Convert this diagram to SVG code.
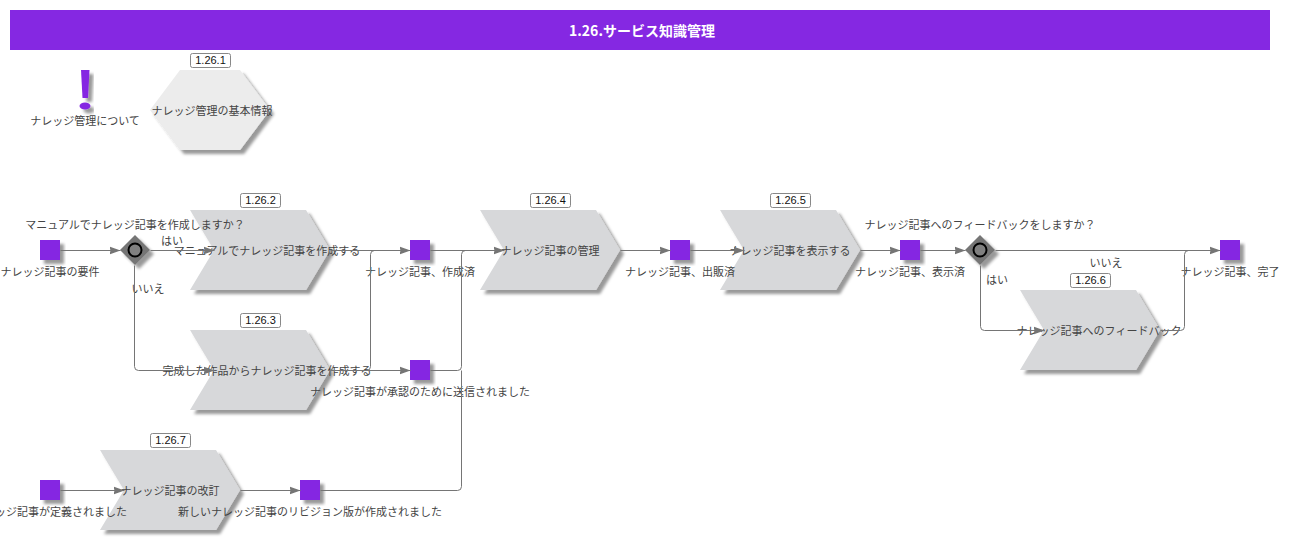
<svg xmlns="http://www.w3.org/2000/svg" width="1291" height="540" viewBox="0 0 1291 540">
<style>
text{font-family:"Noto Sans CJK JP","Liberation Sans",sans-serif;font-size:11px;fill:#444;text-anchor:middle}
.ev{fill:#8528e2;filter:url(#sh)}
.fn{fill:#d7d8da;filter:url(#sh)}
.gw{fill:#757575;filter:url(#sh)}
.ring{fill:#808080;stroke:#000;stroke-width:2}
.tag{fill:#fff;stroke:#888;stroke-width:1}
.tagt{font-family:"Liberation Sans",sans-serif;fill:#111}
.c{fill:none;stroke:#757575;stroke-width:1}
.a{marker-end:url(#arr)}
</style>
<defs>
<filter id="sh" x="-20%" y="-20%" width="150%" height="150%"><feDropShadow dx="4" dy="4" stdDeviation="1.500" flood-color="#000" flood-opacity="0.4"/></filter>
<marker id="arr" markerUnits="userSpaceOnUse" markerWidth="12" markerHeight="10" refX="11" refY="5" orient="auto"><path d="M0 1 L11 5 L0 9 L1 5 Z" fill="#757575"/></marker>
<polygon id="chev" points="0,0 116,0 140,40 116,80 0,80 24,40"/>
</defs>
<rect id="header" x="10" y="10" width="1260" height="40" fill="#8528e2"/>
<g id="about"><g style="filter:url(#sh)"><polygon points="81,70 89.500,70 88,98 82.500,98" fill="#8528e2"/><ellipse cx="85" cy="106" rx="5.500" ry="3.500" fill="#8528e2"/></g><text x="85" y="125">ナレッジ管理について</text></g>
<g id="n1261"><polygon points="150,110 180,70 240,70 270,110 240,150 180,150" fill="#ececec" filter="url(#sh)"/><text x="212" y="115">ナレッジ管理の基本情報</text><rect class="tag" x="190.500" y="53.500" width="40" height="14" rx="2"/><text class="tagt" x="210.500" y="64">1.26.1</text></g>
<g id="n1262"><use href="#chev" x="190" y="210" class="fn"/></g>
<g id="n1263"><use href="#chev" x="190" y="330" class="fn"/></g>
<g id="n1264"><use href="#chev" x="480" y="210" class="fn"/></g>
<g id="n1265"><use href="#chev" x="720" y="210" class="fn"/></g>
<g id="n1266"><use href="#chev" x="1020" y="290" class="fn"/></g>
<g id="n1267"><use href="#chev" x="100" y="450" class="fn"/></g>
<g id="e1"><rect class="ev" x="40" y="240" width="20" height="20"/><text x="50" y="276">ナレッジ記事の要件</text></g>
<g id="g1"><polygon class="gw" points="135,235 150,250 135,265 120,250"/><circle class="ring" cx="135" cy="250" r="6.500"/><text x="135" y="229">マニュアルでナレッジ記事を作成しますか？</text><text x="172" y="245">はい</text><text x="148" y="293">いいえ</text></g>
<g id="t1262"><text x="267" y="255">マニュアルでナレッジ記事を作成する</text><rect class="tag" x="240.500" y="193.500" width="40" height="14" rx="2"/><text class="tagt" x="260.500" y="204">1.26.2</text></g>
<g id="t1263"><text x="267" y="375">完成した作品からナレッジ記事を作成する</text><rect class="tag" x="240.500" y="313.500" width="40" height="14" rx="2"/><text class="tagt" x="260.500" y="324">1.26.3</text></g>
<g id="e2"><rect class="ev" x="410" y="240" width="20" height="20"/><text x="420" y="276">ナレッジ記事、作成済</text></g>
<g id="e3"><rect class="ev" x="410" y="360" width="20" height="20"/><text x="420" y="396">ナレッジ記事が承認のために送信されました</text></g>
<g id="t1264"><text x="550" y="255">ナレッジ記事の管理</text><rect class="tag" x="530.500" y="193.500" width="40" height="14" rx="2"/><text class="tagt" x="550.500" y="204">1.26.4</text></g>
<g id="e4"><rect class="ev" x="670" y="240" width="20" height="20"/><text x="680" y="276">ナレッジ記事、出販済</text></g>
<g id="t1265"><text x="790" y="255">ナレッジ記事を表示する</text><rect class="tag" x="770.500" y="193.500" width="40" height="14" rx="2"/><text class="tagt" x="790.500" y="204">1.26.5</text></g>
<g id="e5"><rect class="ev" x="900" y="240" width="20" height="20"/><text x="910" y="276">ナレッジ記事、表示済</text></g>
<g id="g2"><polygon class="gw" points="980,235 995,250 980,265 965,250"/><circle class="ring" cx="980" cy="250" r="6.500"/><text x="980" y="229">ナレッジ記事へのフィードバックをしますか？</text><text x="997" y="284">はい</text><text x="1106" y="267">いいえ</text></g>
<g id="t1266"><text x="1099" y="335">ナレッジ記事へのフィードバック</text><rect class="tag" x="1070.500" y="273.500" width="40" height="14" rx="2"/><text class="tagt" x="1090.500" y="284">1.26.6</text></g>
<g id="e6"><rect class="ev" x="1220" y="240" width="20" height="20"/><text x="1230" y="276">ナレッジ記事、完了</text></g>
<g id="t1267"><text x="170" y="495">ナレッジ記事の改訂</text><rect class="tag" x="150.500" y="433.500" width="40" height="14" rx="2"/><text class="tagt" x="170.500" y="444">1.26.7</text></g>
<g id="e7"><rect class="ev" x="40" y="480" width="20" height="20"/><text x="50" y="516">ナレッジ記事が定義されました</text></g>
<g id="e8"><rect class="ev" x="300" y="480" width="20" height="20"/><text x="310" y="516">新しいナレッジ記事のリビジョン版が作成されました</text></g>
<text id="title" x="642" y="36" style="font-size:14px;font-weight:bold;fill:#fff">1.26.サービス知識管理</text>
<g id="connectors" transform="translate(0.5 0.5)">
<path class="c a" d="M60 250H120"/>
<path class="c a" d="M150 250H214"/>
<path class="c a" d="M134 265V366Q134 370 138 370H214"/>
<path class="c a" d="M330 250H410"/>
<path class="c a" d="M330 370H410"/>
<path class="c" d="M366 370Q370 370 370 366V254Q370 250 374 250"/>
<path class="c a" d="M430 250H504"/>
<path class="c" d="M430 370H457Q461 370 461 366V254Q461 250 465 250"/>
<path class="c" d="M320 490H457Q461 490 461 486V370"/>
<path class="c a" d="M620 250H670"/>
<path class="c a" d="M690 250H744"/>
<path class="c a" d="M860 250H900"/>
<path class="c a" d="M920 250H965"/>
<path class="c a" d="M995 250H1220"/>
<path class="c a" d="M980 265V326Q980 330 984 330H1044"/>
<path class="c" d="M1160 330H1180Q1184 330 1184 326V254Q1184 250 1188 250"/>
<path class="c a" d="M60 490H124"/>
<path class="c a" d="M240 490H300"/>
</g>
</svg>
